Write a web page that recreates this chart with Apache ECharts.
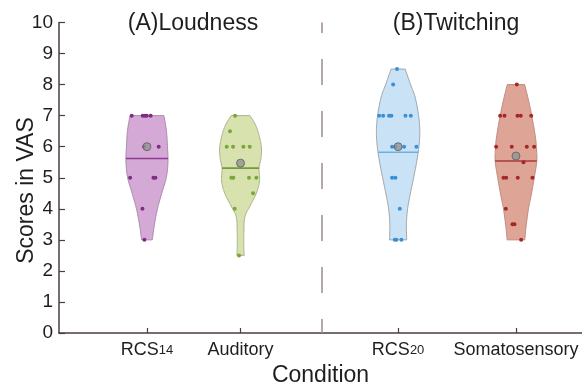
<!DOCTYPE html>
<html><head><meta charset="utf-8">
<script src="https://cdn.jsdelivr.net/npm/echarts@6/dist/echarts.min.js"></script>
<style>html,body{margin:0;padding:0;background:#fff}#c{width:582px;height:387px}</style>
</head><body><div id="c"></div>
<script>
// ---------- data ----------
const categories = ['RCS14', 'Auditory', 'RCS20', 'Somatosensory'];
const categoryPos = [0.935, 1.93, 3.605, 4.858];
const dividerPos = 2.79;
const groupTitles = ['(A)Loudness', '(B)Twitching'];
const yTicks = [0, 1, 2, 3, 4, 5, 6, 7, 8, 9, 10];

// violin profiles (score level -> relative density)
const rcs14Levels  = [3, 3.5, 4, 4.5, 5, 5.5, 6, 6.5, 7];
const rcs14Density = [0.244, 0.346, 0.484, 0.682, 0.889, 0.968, 0.945, 0.899, 0.783];
const audLevels    = [2.5, 2.75, 3.2, 3.73, 4.05, 4.5, 4.9, 5.3, 5.65, 6, 6.4, 6.7, 7];
const audDensity   = [0.171, 0.152, 0.152, 0.194, 0.406, 0.728, 0.876, 0.853, 0.945, 0.959, 0.843, 0.691, 0.438];
const rcs20Levels  = [3, 3.5, 4, 4.5, 5, 5.5, 6, 6.5, 7, 7.6, 8, 8.5];
const rcs20Density = [0.396, 0.382, 0.438, 0.567, 0.714, 0.853, 0.959, 1.0, 0.945, 0.783, 0.576, 0.323];
const somLevels    = [3, 3.4, 4, 4.4, 5, 5.54, 5.93, 6.3, 7, 7.5, 8];
const somDensity   = [0.406, 0.461, 0.576, 0.691, 0.843, 0.959, 0.945, 0.899, 0.728, 0.576, 0.401];

// individual scores and their horizontal jitter
const rcs14Scores = [7, 7, 7, 7, 7, 6, 6, 5, 5, 5, 4, 3];
const rcs14Jitter = [-0.162, -0.045, -0.023, -0.002, 0.040, -0.030, 0.125, -0.179, 0.069, 0.090, -0.048, -0.027];
const audScores   = [7, 6.5, 6, 6, 6, 6, 5, 5, 5, 5, 4.5, 4, 2.5];
const audJitter   = [-0.058, -0.112, -0.147, -0.080, 0.030, 0.098, -0.098, -0.077, 0.090, 0.168, 0.133, -0.062, -0.016];
const rcs20Scores = [8.5, 8, 7, 7, 7, 7, 7, 7, 6, 6, 6, 6, 5, 5, 4, 3, 3, 3];
const rcs20Jitter = [-0.011, -0.053, -0.202, -0.159, -0.096, -0.071, 0.078, 0.135, -0.064, -0.029, 0.064, 0.195, -0.064, -0.029, 0.018, -0.035, -0.018, 0.035];
const somScores   = [8, 7, 7, 7, 7, 7, 6, 6, 6, 6, 5.5, 5, 5, 5, 5, 4, 3.5, 3.5, 3];
const somJitter   = [0.009, -0.168, -0.122, 0.016, 0.051, 0.162, -0.211, -0.045, 0.115, 0.193, 0.080, -0.133, -0.104, 0.019, 0.175, -0.108, -0.037, -0.016, 0.055];

const meanValues   = [5.62, 5.31, 5.82, 5.54];
const medianValues = [6, 5.47, 6, 5.7];

// ---------- styling ----------
const maxHalfWidth = 0.2307;
const fillColors  = ['#d5a9d6', '#d7e2ae', '#c9e2f6', '#dea597'];
const edgeColors  = ['#a98aab', '#aab38a', '#9ea6ad', '#c08a80'];
const pointColors = ['#7e2d83', '#78a83a', '#3b8fd4', '#a2282a'];
const lineColors  = ['#8e3b91', '#7a983a', '#6cb0e3', '#a83a3a'];
const FONT = "'Liberation Sans', Arial, sans-serif";
const AXIS = '#4a3f3f';

const profiles = [
  {levels: rcs14Levels, density: rcs14Density},
  {levels: audLevels, density: audDensity},
  {levels: rcs20Levels, density: rcs20Density},
  {levels: somLevels, density: somDensity}
];
const scoreSets = [[rcs14Scores, rcs14Jitter], [audScores, audJitter], [rcs20Scores, rcs20Jitter], [somScores, somJitter]];

function catmull(p, n) {
  const out = [];
  for (let i = 0; i < p.length - 1; i++) {
    const p0 = p[Math.max(i - 1, 0)], p1 = p[i], p2 = p[i + 1], p3 = p[Math.min(i + 2, p.length - 1)];
    for (let t = 0; t < n; t++) {
      const s = t / n, s2 = s * s, s3 = s2 * s;
      const f = k => 0.5 * (2 * p1[k] + (-p0[k] + p2[k]) * s + (2 * p0[k] - 5 * p1[k] + 4 * p2[k] - p3[k]) * s2 + (-p0[k] + 3 * p1[k] - 3 * p2[k] + p3[k]) * s3);
      out.push([f(0), f(1)]);
    }
  }
  out.push(p[p.length - 1]);
  return out;
}
function xAtY(pts, y) {
  for (let i = 0; i < pts.length - 1; i++) {
    const a = pts[i], b = pts[i + 1];
    if ((a[1] - y) * (b[1] - y) <= 0 && a[1] !== b[1]) {
      const t = (y - a[1]) / (b[1] - a[1]);
      return a[0] + t * (b[0] - a[0]);
    }
  }
  return pts[0][0];
}

const chart = echarts.init(document.getElementById('c'), null, {renderer: 'canvas'});

const series = [];
series.push({
  type: 'custom',
  z: 2,
  silent: true,
  data: categories.map((c, i) => [i]),
  renderItem: function (params, api) {
    const i = api.value(0);
    const prof = profiles[i];
    const cx = categoryPos[i];
    const right = catmull(prof.levels.map((v, k) => api.coord([cx + prof.density[k] * maxHalfWidth, v])), 10);
    const left = catmull(prof.levels.map((v, k) => api.coord([cx - prof.density[k] * maxHalfWidth, v])), 10);
    const pts = right.concat(left.slice().reverse());
    const my = api.coord([cx, meanValues[i]])[1];
    const xr = xAtY(right, my), xl = xAtY(left, my);
    return {
      type: 'group',
      children: [
        {type: 'polygon', shape: {points: pts}, style: {fill: fillColors[i], stroke: edgeColors[i], lineWidth: 1}},
        {type: 'line', shape: {x1: xl, y1: my, x2: xr, y2: my}, style: {stroke: lineColors[i], lineWidth: 1.6}}
      ]
    };
  },
  markLine: {
    silent: true,
    symbol: 'none',
    label: {show: false},
    lineStyle: {type: [26, 26], dashOffset: 12, color: '#9d8c8c', width: 1.5},
    data: [{xAxis: dividerPos}]
  }
});

scoreSets.forEach((set, i) => {
  series.push({
    type: 'scatter',
    z: 3,
    silent: true,
    symbol: 'circle',
    symbolSize: 4,
    itemStyle: {color: pointColors[i], opacity: 1},
    data: set[0].map((s, k) => [categoryPos[i] + set[1][k], s])
  });
});

series.push({
  type: 'scatter',
  z: 4,
  silent: true,
  symbol: 'circle',
  symbolSize: 8,
  itemStyle: {color: '#939393', borderColor: '#5e5e5e', borderWidth: 1},
  data: medianValues.map((m, i) => [categoryPos[i], m])
});

const option = {
  animation: false,
  backgroundColor: '#fff',
  grid: {left: 59, right: 0, top: 22.5, bottom: 54, containLabel: false, outerBoundsMode: 'none'},
  xAxis: {
    type: 'value',
    min: 0, max: 5.56,
    name: 'Condition',
    nameLocation: 'middle',
    nameGap: 27,
    nameTextStyle: {fontFamily: FONT, fontSize: 23, color: '#1e1e1e'},
    axisLine: {show: true, onZero: false, lineStyle: {color: AXIS, width: 1.5}},
    splitLine: {show: false},
    axisTick: {show: true, inside: true, length: 5, customValues: categoryPos, lineStyle: {color: AXIS, width: 1.2}},
    axisLabel: {
      show: true,
      customValues: categoryPos,
      margin: 7,
      color: '#1e1e1e',
      fontFamily: FONT,
      fontSize: 18,
      formatter: function (v) {
        let best = 0;
        categoryPos.forEach((p, i) => { if (Math.abs(p - v) < Math.abs(categoryPos[best] - v)) best = i; });
        const m = categories[best].match(/^(\D+)(\d+)$/);
        return m ? '{n|' + m[1] + '}{s|' + m[2] + '}' : '{n|' + categories[best] + '}';
      },
      rich: {
        n: {fontFamily: FONT, fontSize: 18, color: '#1e1e1e', lineHeight: 20},
        s: {fontFamily: FONT, fontSize: 13, color: '#1e1e1e', lineHeight: 20}
      }
    }
  },
  yAxis: {
    type: 'value',
    min: 0, max: 10, interval: 1,
    axisLine: {show: true, lineStyle: {color: AXIS, width: 1.5}},
    splitLine: {show: false},
    axisTick: {show: true, inside: true, length: 6, lineStyle: {color: AXIS, width: 1.2}},
    axisLabel: {
      margin: 6, color: '#1e1e1e', fontFamily: FONT, fontSize: 19,
      formatter: v => (yTicks.indexOf(v) >= 0 ? String(v) : '')
    }
  },
  graphic: [
    {type: 'text', x: 193, y: 24, style: {text: groupTitles[0], font: '23px ' + FONT, fill: '#1e1e1e', align: 'center', verticalAlign: 'middle'}},
    {type: 'text', x: 456, y: 24, style: {text: groupTitles[1], font: '23px ' + FONT, fill: '#1e1e1e', align: 'center', verticalAlign: 'middle'}},
    {type: 'text', x: 27, y: 190.5, rotation: Math.PI / 2, style: {text: 'Scores in VAS', font: '23px ' + FONT, fill: '#1e1e1e', align: 'center', verticalAlign: 'middle'}}
  ],
  series: series
};
chart.setOption(option);
</script>
</body></html>
